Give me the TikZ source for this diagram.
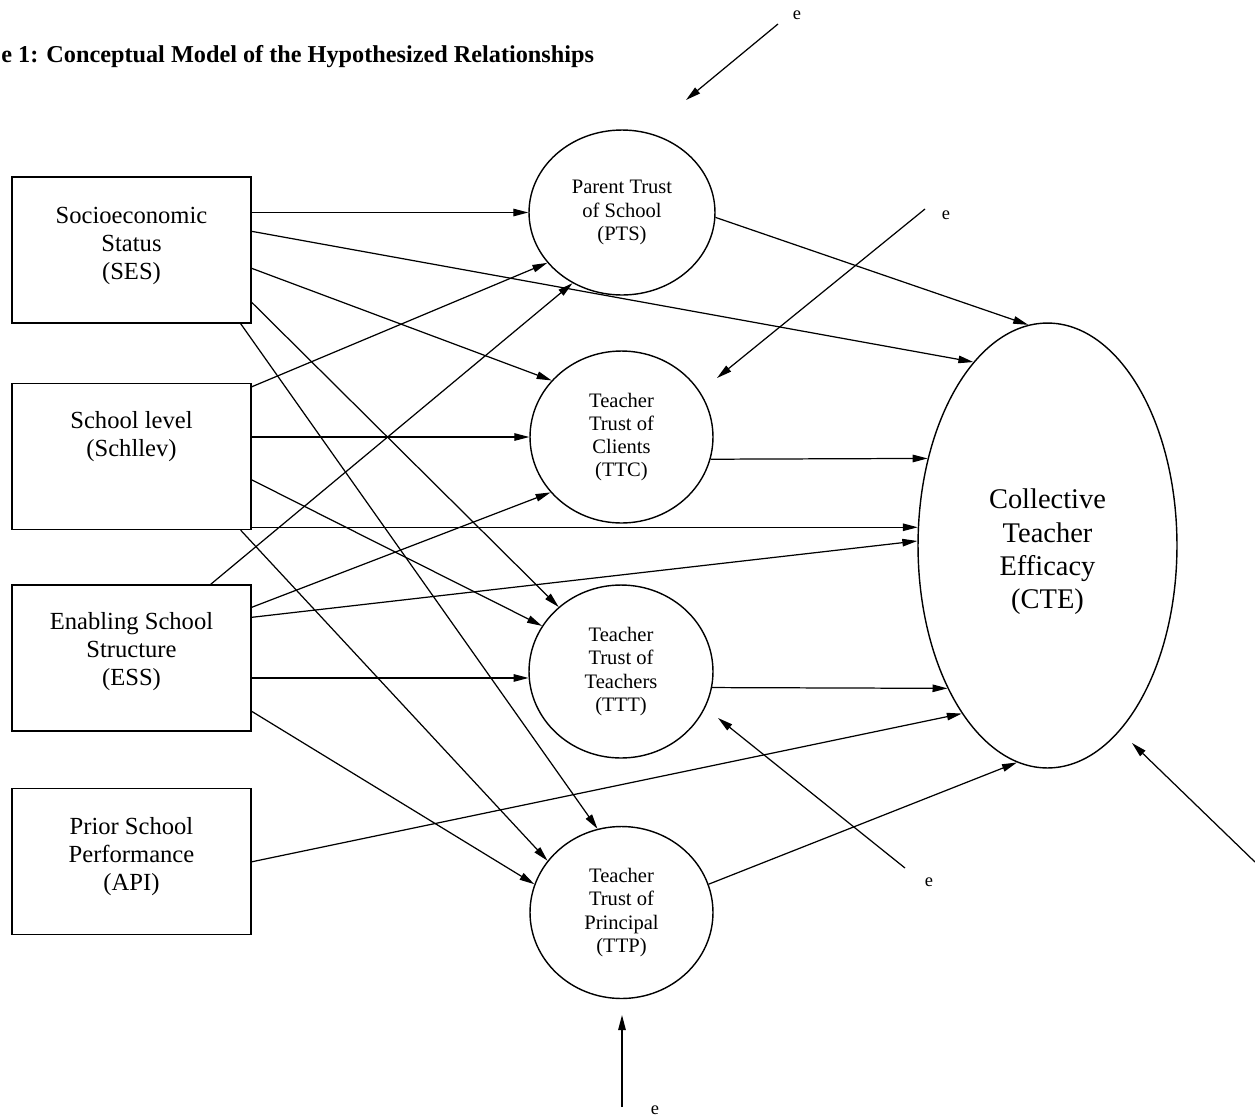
\documentclass[tikz,border=0pt]{standalone}
\usepackage{fontspec}
\setmainfont{Liberation Serif}
\usetikzlibrary{shapes.geometric,arrows.meta,calc}
\begin{document}
\begin{tikzpicture}[x=0.02cm,y=-0.02cm,
  box/.style={draw,line width=0.8pt,minimum width=4.78cm,minimum height=2.92cm,inner sep=0pt},
  boxtext/.style={align=center,inner sep=0pt,font=\fontsize{14}{15.9}\selectfont},
  lat/.style={draw,ellipse,line width=0.8pt,minimum width=3.66cm,minimum height=3.44cm,align=center,inner sep=0pt,font=\fontsize{11.7}{13.2}\selectfont},
  conn/.style={-{Triangle[length=0.3cm,width=0.15cm]},line width=0.7pt},
  elab/.style={inner sep=0pt,font=\fontsize{10.5}{12}\selectfont}
]
\useasboundingbox (0,0) rectangle (1255,1117);

% title
\node[anchor=base west,inner sep=0pt,font=\bfseries\fontsize{13.8}{16}\selectfont] (title) at (1,62) {e 1: Conceptual Model of the Hypothesized Relationships};

% exogenous boxes
\node[box] (SES) at (131.5,250) {};
\node[boxtext] (SESt) at (131.5,246) {Socioeconomic\\Status\\(SES)};
\node[box] (SCH) at (131.5,456.5) {};
\node[boxtext] (SCHt) at (131.5,436.5) {School level\\(Schllev)};
\node[box] (ESS) at (131.5,658) {};
\node[boxtext] (ESSt) at (131.5,652) {Enabling School\\Structure\\(ESS)};
\node[box] (API) at (131.5,861.5) {};
\node[boxtext] (APIt) at (131.5,857) {Prior School\\Performance\\(API)};

% trust circles
\node[lat,minimum width=3.72cm,minimum height=3.3cm] (PTS) at (622,212.5) {Parent Trust\\of School\\(PTS)};
\node[lat] (TTC) at (621.5,437) {Teacher\\Trust of\\Clients\\(TTC)};
\node[lat,minimum width=3.68cm,minimum height=3.46cm] (TTT) at (621,671.5) {Teacher\\Trust of\\Teachers\\(TTT)};
\node[lat] (TTP) at (621.5,912.5) {Teacher\\Trust of\\Principal\\(TTP)};

% outcome
\node[draw,ellipse,line width=0.8pt,minimum width=5.18cm,minimum height=8.9cm,inner sep=0pt] (CTE) at (1047.5,545.5) {};
\node[align=center,inner sep=0pt,font=\fontsize{16.2}{19}\selectfont] (CTEt) at (1047.5,552) {Collective\\Teacher\\Efficacy\\(CTE)};

% SES paths
\draw[conn] (PTS.180 -| SES.east) -- (PTS.180);
\draw[conn] ($(SES.north east)+(0,55)$) -- (CTE.112);
\draw[conn] ($(SES.north east)+(0,92)$) -- (TTC.141);
\draw[conn] ($(SES.north east)+(0,126)$) -- (TTT.134);
\draw[conn] ($(SES.south east)+(-11,0)$) -- (TTP.106);

% Schllev paths
\draw[conn] ($(SCH.north east)+(0,4)$) -- (PTS.214);
\draw[conn] (TTC.180 -| SCH.east) -- (TTC.180);
\draw[conn] ($(SCH.north east)+(0,97)$) -- (TTT.150);
\draw[conn] (CTE.172 -| SCH.east) -- (CTE.172);
\draw[conn] ($(SCH.south east)+(-11,0)$) -- (TTP.145);

% ESS paths
\draw[conn] ($(ESS.north east)+(-41,0)$) -- (PTS.235);
\draw[conn] ($(ESS.north east)+(0,23)$) -- (TTC.218);
\draw[conn] ($(ESS.north east)+(0,33)$) -- (CTE.178);
\draw[conn] (TTT.184 -| ESS.east) -- (TTT.184);
\draw[conn] ($(ESS.north east)+(0,127)$) -- (TTP.162);

% API path
\draw[conn] ($(API.north east)+(0,74)$) -- (CTE.243);

% mediators to CTE
\draw[conn] (PTS.-3) -- (CTE.95);
\draw[conn] (TTC.-14) -- (CTE.144);
\draw[conn] (TTT.-10) -- (CTE.235);
\draw[conn] (TTP.18) -- (CTE.262);

% error terms
\node[elab] (e1) at (797,15) {e};
\coordinate (e1s) at (778,24);
\coordinate (e1t) at (686,100);
\draw[conn] (e1s) -- (e1t);

\node[elab] (e2) at (946,215) {e};
\coordinate (e2s) at (925,209);
\coordinate (e2t) at (717,378);
\draw[conn] (e2s) -- (e2t);

\node[elab] (e3) at (929,882) {e};
\coordinate (e3s) at (905,868);
\coordinate (e3t) at (718,718);
\draw[conn] (e3s) -- (e3t);

\node[elab] (e4) at (655,1110) {e};
\coordinate (e4s) at (622,1107);
\coordinate (e4t) at (622,1015);
\draw[conn] (e4s) -- (e4t);

\coordinate (e5s) at (1255,862);
\coordinate (e5t) at (1132,743);
\draw[conn] (e5s) -- (e5t);
\end{tikzpicture}
\end{document}
